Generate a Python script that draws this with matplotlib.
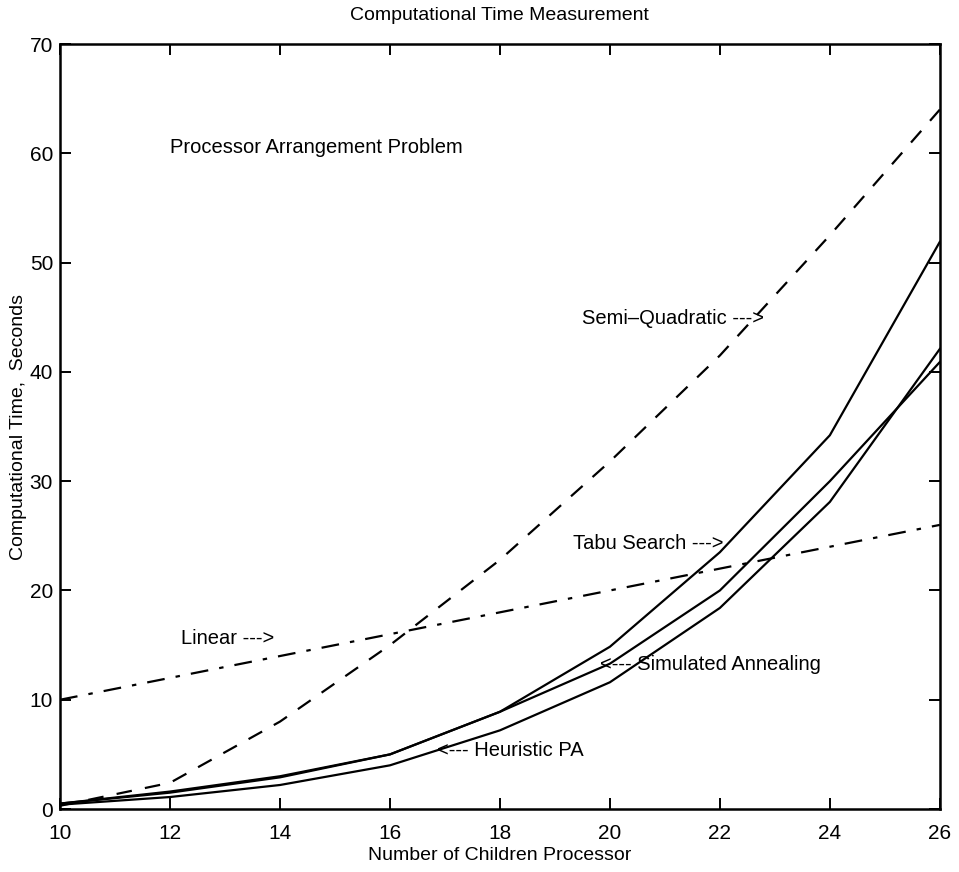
import matplotlib.pyplot as plt

plt.rcParams['font.family'] = ['Liberation Sans', 'DejaVu Sans']

# data
n = [10, 12, 14, 16, 18, 20, 22, 24, 26]
tabu = [0.5, 1.6, 3.0, 5.0, 8.9, 14.85, 23.5, 34.2, 51.9]
annealing = [0.5, 1.5, 2.9, 5.0, 8.9, 13.3, 20.0, 30.0, 40.9]
heuristic = [0.4, 1.1, 2.2, 4.0, 7.2, 11.6, 18.4, 28.1, 42.1]
semi_quad = [0.3, 2.4, 8.0, 15.0, 22.8, 31.8, 41.5, 52.5, 64.0]
linear = [10, 12, 14, 16, 18, 20, 22, 24, 26]

fig = plt.figure(figsize=(9.59, 8.72), dpi=100)
ax = fig.add_axes([0.0626, 0.0722, 0.9174, 0.8773])

ax.plot(n, tabu, color="black", lw=1.6)
ax.plot(n, annealing, color="black", lw=1.6)
ax.plot(n, heuristic, color="black", lw=1.6)
ax.plot(n, semi_quad, color="black", lw=1.6, linestyle=(0, (7, 6)))
ax.plot(n, linear, color="black", lw=1.6, linestyle=(0, (8, 5, 2, 5)))

ax.set_xlim(10, 26)
ax.set_ylim(0, 70)
ax.set_xticks(range(10, 27, 2))
ax.set_yticks(range(0, 71, 10))
ax.tick_params(direction="in", length=8, width=1.4, top=True, right=True,
               labelsize=15)
ax.tick_params(axis="x", pad=11)
ax.tick_params(axis="y", pad=5)
for s in ax.spines.values():
    s.set_linewidth(1.8)

ax.set_title("Computational Time Measurement", fontsize=14, pad=17)
ax.set_xlabel("Number of Children Processor", fontsize=14, labelpad=3)
ax.set_ylabel("Computational Time,  Seconds", fontsize=14, labelpad=2)

fs = 14.5
ax.text(12.0, 60.5, "Processor Arrangement Problem", fontsize=fs, va="center")
ax.text(19.5, 44.9, "Semi\u2013Quadratic --->", fontsize=fs, va="center")
ax.text(19.33, 24.3, "Tabu Search --->", fontsize=fs, va="center")
ax.text(19.82, 13.2, "<--- Simulated Annealing", fontsize=fs, va="center")
ax.text(16.85, 5.4, "<--- Heuristic PA", fontsize=fs, va="center")
ax.text(12.2, 15.6, "Linear --->", fontsize=fs, va="center")

fig.savefig("out.png", dpi=100)
